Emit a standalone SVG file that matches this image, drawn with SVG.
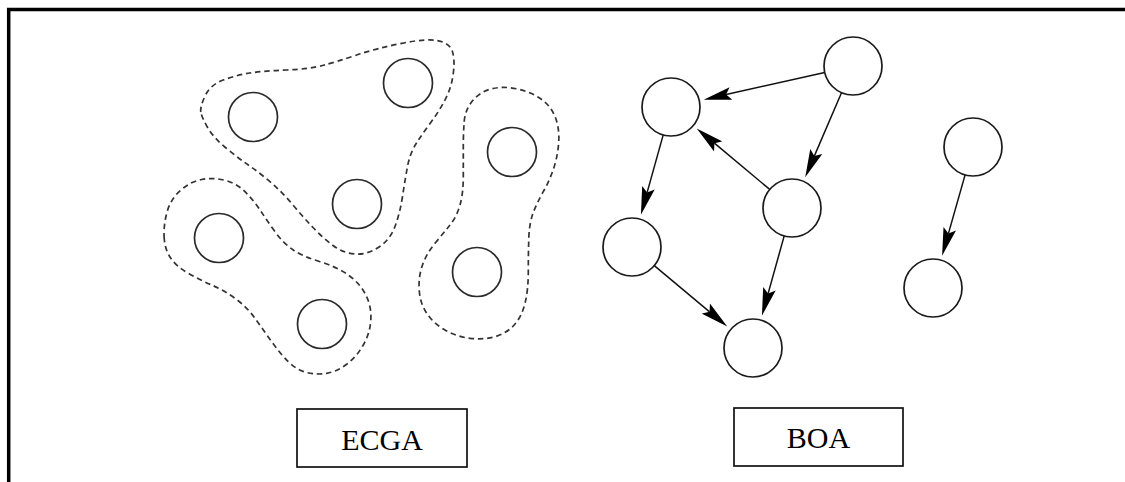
<svg xmlns="http://www.w3.org/2000/svg" width="1125" height="482" viewBox="0 0 1125 482">
  <style>
    .frame { fill: none; stroke: #000; stroke-width: 3.5; }
    .var { fill: #fff; stroke: #2a2a2a; stroke-width: 1.7; }
    .node { fill: #fff; stroke: #1a1a1a; stroke-width: 1.7; }
    .group { fill: none; stroke: #333; stroke-width: 1.7; stroke-dasharray: 5.5 3.8; }
    .edge { fill: none; stroke: #111; stroke-width: 1.5; marker-end: url(#head); }
    .box { fill: #fff; stroke: #111; stroke-width: 1.7; }
    .label { font-family: "Liberation Serif", "Times New Roman", serif; font-size: 30px; fill: #000; text-anchor: middle; }
  </style>
  <defs>
    <marker id="head" viewBox="0 -7 28 14" refX="5" refY="0" markerWidth="28" markerHeight="14" markerUnits="userSpaceOnUse" orient="auto">
      <path d="M28,0 L0,-6.5 L5,0 L0,6.5 Z" fill="#000"/>
    </marker>
  </defs>

  <rect width="1125" height="482" fill="#fff"/>
  <rect class="frame" x="8.7" y="9.5" width="1130" height="500"/>

  <!-- ECGA: linkage groups drawn as dashed outlines -->
  <g id="ecga-groups">
    <path class="group" d="M200.8,112 Q200,107 205,96 Q210,85 223.3,80 Q236.7,75 249.8,73 Q263,71 286.5,70 Q310,69 323.3,65.3 Q336.7,61.7 356.7,55 Q376.7,48.3 401.7,43.3 Q426.7,38.3 438.3,40.8 Q450,43.3 452.5,51.7 Q455,60 453.3,73.3 Q451.7,86.7 445.8,98.3 Q440,110 431.5,121.5 Q423,133 416.5,143 Q410,153 407.5,166.5 Q405,180 402.5,196.5 Q400,213 395,226.5 Q390,240 378.3,247.5 Q366.7,255 354.8,254 Q343,253 333,245.5 Q323,238 313,227.5 Q303,217 293,205 Q283,193 271.5,183 Q260,173 248.3,165 Q236.7,157 224.8,147 Q213,137 207.3,127 Q201.7,117 200.8,112 Z"/>
    <path class="group" d="M164.2,238.3 Q163.3,226.7 166.7,213.3 Q170,200 180,190.8 Q190,181.7 201.7,179.5 Q213.3,177.3 225,180.3 Q236.7,183.3 245,191.7 Q253.3,200 260,210 Q266.7,220 275,231.7 Q283.3,243.3 293.3,250 Q303.3,256.7 320,261.7 Q336.7,266.7 348.3,275 Q360,283.3 365.8,295 Q371.7,306.7 370.8,320 Q370,333.3 363.3,345 Q356.7,356.7 346.7,364.2 Q336.7,371.7 326.7,373.3 Q316.7,375 306.7,372.5 Q296.7,370 288.3,361.7 Q280,353.3 271.7,341.7 Q263.3,330 255,318.3 Q246.7,306.7 235,298.3 Q223.3,290 211.7,285 Q200,280 188.3,273.3 Q176.7,266.7 170.8,258.3 Q165,250 164.2,238.3 Z"/>
    <path class="group" d="M464.2,121.7 Q465,110 472.5,100.8 Q480,91.7 491.7,88.8 Q503.3,86 516.7,88.8 Q530,91.7 540,98.3 Q550,105 554.7,115.8 Q559.3,126.7 558.8,140 Q558.3,153.3 554.2,166.7 Q550,180 543.3,191.7 Q536.7,203.3 533,213.3 Q529.3,223.3 528.8,238.3 Q528.3,253.3 528.3,271.7 Q528.3,290 525,303.3 Q521.7,316.7 514.2,325 Q506.7,333.3 495,336.7 Q483.3,340 470,338.3 Q456.7,336.7 445,330 Q433.3,323.3 426.7,313.3 Q420,303.3 419.2,290 Q418.3,276.7 422.5,265 Q426.7,253.3 435,243.3 Q443.3,233.3 450,225 Q456.7,216.7 460,205 Q463.3,193.3 463.3,176.7 Q463.3,160 463.3,146.7 Q463.3,133.3 464.2,121.7 Z"/>
  </g>

  <!-- ECGA variables -->
  <g id="ecga-v1"><circle class="var" cx="253" cy="117" r="24.5"/></g>
  <g id="ecga-v2"><circle class="var" cx="408" cy="83" r="24.5"/></g>
  <g id="ecga-v3"><circle class="var" cx="512" cy="152" r="24.5"/></g>
  <g id="ecga-v4"><circle class="var" cx="357" cy="204" r="24.5"/></g>
  <g id="ecga-v5"><circle class="var" cx="219" cy="238" r="24.5"/></g>
  <g id="ecga-v6"><circle class="var" cx="477" cy="272" r="24.5"/></g>
  <g id="ecga-v7"><circle class="var" cx="322" cy="324" r="24.5"/></g>

  <!-- BOA: Bayesian network edges -->
  <g id="boa-edges">
    <line class="edge" x1="824.7" y1="72.4" x2="726.1" y2="94.6"/>
    <line class="edge" x1="841.5" y1="92.7" x2="814.3" y2="156.1"/>
    <line class="edge" x1="769.7" y1="189.4" x2="714.4" y2="143.2"/>
    <line class="edge" x1="663.2" y1="134.9" x2="647.1" y2="192.6"/>
    <line class="edge" x1="784.2" y1="235.9" x2="768.1" y2="293.6"/>
    <line class="edge" x1="654.3" y1="265.6" x2="709.6" y2="311.8"/>
    <line class="edge" x1="965.1" y1="174.9" x2="948.4" y2="233.6"/>
  </g>

  <!-- BOA nodes -->
  <g id="boa-a"><circle class="node" cx="853" cy="66" r="29"/></g>
  <g id="boa-b"><circle class="node" cx="671" cy="107" r="29"/></g>
  <g id="boa-c"><circle class="node" cx="792" cy="208" r="29"/></g>
  <g id="boa-d"><circle class="node" cx="632" cy="247" r="29"/></g>
  <g id="boa-e"><circle class="node" cx="753" cy="348" r="29"/></g>
  <g id="boa-f"><circle class="node" cx="973" cy="147" r="29"/></g>
  <g id="boa-g"><circle class="node" cx="933" cy="288" r="29"/></g>

  <!-- captions -->
  <g id="caption-ecga">
    <rect class="box" x="297" y="409" width="170" height="58"/>
    <text class="label" x="382" y="450">ECGA</text>
  </g>
  <g id="caption-boa">
    <rect class="box" x="734" y="408" width="169" height="58"/>
    <text class="label" x="818.5" y="448">BOA</text>
  </g>
</svg>
